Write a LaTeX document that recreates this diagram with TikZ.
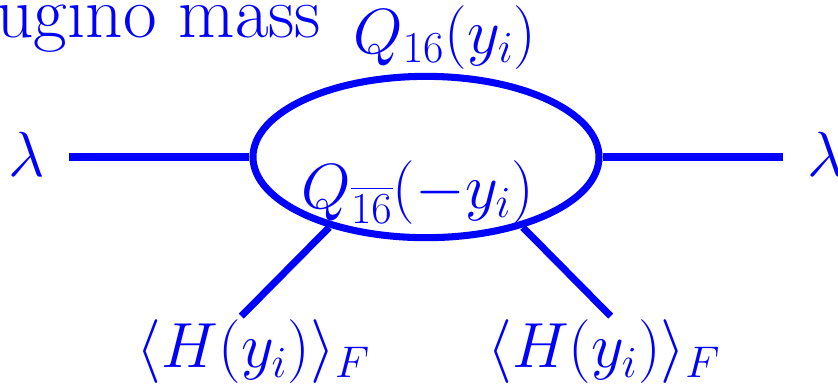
\documentclass[tikz,border=0pt]{standalone}
\usepackage{amsmath}
\usepackage{amssymb}
\usepackage{tikz}
\usetikzlibrary{positioning, shapes.geometric}

\begin{document}
\begin{tikzpicture}[prop/.style={line width=2.75pt, draw=blue}, lbl/.style={text=blue, font=\fontsize{23.3}{28}\selectfont}]
    \useasboundingbox (-5.836,-3.123) rectangle (5.644,2.151);
    \node[prop, ellipse, draw, minimum width=4.74cm, minimum height=2.21cm, inner sep=0pt] (loop) at (0,0) {};
    \node[lbl, font=\fontsize{28}{34}\selectfont] (lamL) at (-5.47,0.03) {$\lambda$};
    \node[lbl, font=\fontsize{28}{34}\selectfont] (lamR) at (5.47,0.03) {$\lambda$};
    \coordinate (inL) at (-4.89,0);
    \coordinate (inR) at (4.89,0);
    \draw[prop] (inL) -- (loop.west);
    \draw[prop] (loop.east) -- (inR);
    \coordinate (hL) at (-2.53,-2.18);
    \coordinate (hR) at (2.53,-2.18);
    \draw[prop] (loop.216) -- (hL);
    \draw[prop] (loop.324) -- (hR);
    \node[lbl, font=\fontsize{28.5}{34}\selectfont, anchor=base east] (title) at (-1.31,1.64) {gaugino mass};
    \node[lbl, anchor=base] (qtop) at (0.26,1.42) {$Q_{16}(y_i)$};
    \node[lbl, anchor=base] (qbot) at (-0.11,-0.70) {$Q_{\overline{16}}(-y_i)$};
    \node[lbl, anchor=base] (vevL) at (-2.36,-2.89) {$\langle H(y_i)\rangle_F$};
    \node[lbl, anchor=base] (vevR) at (2.44,-2.89) {$\langle H(y_i)\rangle_F$};
\end{tikzpicture}
\end{document}
